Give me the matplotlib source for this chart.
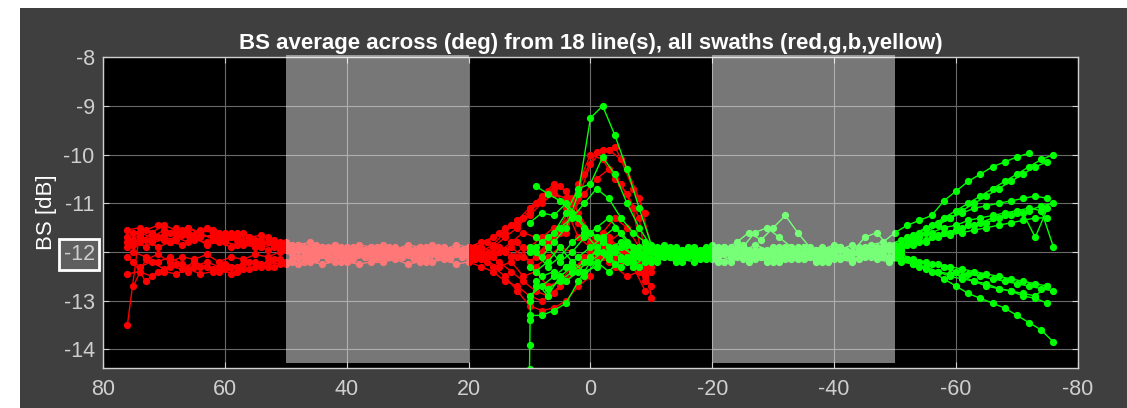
import numpy as np
import matplotlib
matplotlib.use('Agg')
import matplotlib.pyplot as plt
from matplotlib.patches import Rectangle

plt.rcParams['font.family'] = ['Liberation Sans', 'DejaVu Sans']

nan = np.nan

# angle grids (deg), two interleaved sets per side
red_ang_a = list(range(76, -11, -2))    # 76 .. -10
red_ang_b = list(range(75, -10, -2))    # 75 .. -9
green_ang_a = list(range(10, -77, -2))  # 10 .. -76
green_ang_b = list(range(9, -76, -2))   # 9 .. -75

# port swaths (red), BS in dB
red_a = [
    [-13.5, -11.6, -11.7, -11.55, -11.6, -11.65, -11.55, -11.6, -11.7, -11.65, -11.75, -11.8, -11.85, -11.9, -11.95,
     -11.9, -12.0, -11.95, -12.05, -11.9, -12.0, -12.1, -11.95, -12.0, -11.9, -12.05, -12.0, -11.9, -12.1, -12.0,
     -11.85, -11.6, -11.35, -11.1, -10.85, -10.6, -10.75, -11.2, -11.6, -11.9, -12.1, -12.0, -12.2, -12.3],
    [-11.9, -11.7, -11.75, -11.65, -11.5, -11.6, -11.7, -11.65, -11.6, -11.75, -11.7, -11.85, -11.8, -11.9, -11.85,
     -11.95, -11.9, -12.0, -11.9, -12.0, -11.95, -11.9, -12.05, -11.95, -12.0, -11.9, -11.95, -12.05, -11.95, -11.9,
     -12.0, -11.95, -12.1, -11.9, -11.7, -11.5, -11.6, -10.9, -10.2, -9.9, -9.85, -10.3, -10.9, -11.9],
    [-11.7, -11.8, -11.6, -11.7, -11.75, -11.5, -11.65, -11.7, -11.75, -11.7, -11.8, -11.75, -11.9, -11.85, -11.95,
     -12.0, -11.95, -11.9, -12.0, -12.05, -11.9, -12.0, -11.9, -12.05, -11.95, -12.0, -11.9, -12.0, -12.05, -11.95,
     -12.1, -12.0, -11.8, -12.2, -12.0, -11.7, -11.4, -10.6, -10.0, -10.1, -10.5, -10.8, -11.3, -12.95],
    [-11.8, -11.65, -11.8, -11.75, -11.7, -11.8, -11.6, -11.75, -11.8, -11.85, -11.8, -11.9, -11.85, -11.95, -11.9,
     -12.05, -12.0, -11.85, -11.95, -11.95, -12.05, -11.95, -12.0, -11.9, -12.05, -11.95, -12.1, -11.95, -11.9, -12.05,
     -11.9, -11.7, -11.5, -11.2, -10.9, -10.7, -11.1, -11.7, -11.9, -11.6, -11.3, -11.5, -11.9, -12.1],
    [-12.1, -12.3, -12.2, -12.35, -12.25, -12.4, -12.3, -12.35, -12.25, -12.3, -12.2, -12.25, -12.15, -12.2, -12.1,
     -12.15, -12.05, -12.1, -12.15, -12.05, -12.1, -12.0, -12.1, -12.05, -12.15, -12.0, -12.1, -12.05, -12.1, -12.15,
     -12.3, -12.5, -12.8, -13.1, -13.2, -13.15, -13.0, -12.7, -12.5, nan, nan, nan, nan, nan],
    [-11.55, -11.5, -11.6, -11.45, -11.55, -11.5, -11.6, -11.55, -11.65, -11.6, -11.7, -11.65, -11.75, -11.8, -11.85,
     -11.8, -11.9, -11.85, -11.95, -11.85, -11.9, -11.85, -11.95, -11.85, -11.9, -11.85, -11.95, -11.85, -11.9, -11.8,
     -11.7, -11.5, -11.45, -11.25, -11.0, -10.8, -10.9, -11.4, -11.8, -12.1, -12.3, -12.5, -12.4, -12.7],
    [-12.45, -12.4, -12.5, -12.4, -12.45, -12.35, -12.45, -12.4, -12.35, -12.4, -12.35, -12.3, -12.3, -12.25, -12.25,
     -12.2, -12.25, -12.2, -12.2, -12.25, -12.2, -12.2, -12.15, -12.25, -12.2, -12.2, -12.15, -12.25, -12.2, -12.3,
     -12.4, -12.6, -12.7, -12.9, -13.0, -12.85, -12.6, -12.3, -12.0, -11.7, -11.9, -12.0, -12.2, -12.4],
]
red_b = [
    [-12.7, -12.15, -12.05, -12.2, -12.1, -12.15, -12.05, -12.2, -12.1, -12.15, -12.05, -12.1, -12.0, -12.05, -12.1,
     -11.95, -12.05, -12.1, -12.0, -12.1, -11.95, -12.05, -12.1, -12.0, -11.95, -12.1, -12.0, -12.1, -11.95, -12.05,
     -12.2, -12.4, -12.6, -12.8, -12.9, -12.7, -12.4, -12.1, -11.9, -12.0, -12.2, -12.1, -12.6],
    [-11.6, -11.55, -11.45, -11.6, -11.55, -11.65, -11.5, -11.6, -11.7, -11.6, -11.75, -11.7, -11.8, -11.85, -11.9,
     -11.85, -12.0, -11.9, -11.95, -12.05, -11.9, -12.0, -11.95, -12.05, -11.9, -12.0, -11.95, -12.0, -11.9, -11.8,
     -11.6, -11.45, -11.3, -11.0, -10.75, -10.65, -10.9, -11.5, -11.8, -11.7, -11.95, -12.2, -12.4],
    [-12.2, -12.6, -12.4, -12.3, -12.35, -12.2, -12.3, -12.4, -12.3, -12.25, -12.2, -12.3, -12.15, -12.2, -12.1,
     -12.15, -12.1, -12.05, -12.15, -12.1, -12.15, -12.05, -12.1, -12.15, -12.05, -12.1, -12.15, -12.05, -12.1, -12.2,
     -12.3, -12.2, -12.5, -12.4, -12.7, -12.6, -12.3, -12.2, -12.0, -12.2, -12.1, -12.3, -12.8],
    [-12.0, -12.1, -12.2, -12.1, -12.25, -12.3, -12.2, -12.3, -12.45, -12.35, -12.3, -12.2, -12.25, -12.15, -12.2,
     -12.1, -12.15, -12.2, -12.1, -12.05, -12.15, -12.1, -12.05, -12.1, -12.2, -12.05, -12.1, -12.0, -12.15, -12.1,
     -12.0, -11.9, -12.1, -12.3, -12.1, -11.9, -12.0, -12.2, -12.1, -11.8, -11.6, -11.9, -12.3],
    [-11.75, -11.9, -11.7, -11.8, -11.65, -11.75, -11.8, -11.7, -11.6, -11.8, -11.85, -11.8, -11.95, -11.9, -12.0,
     -11.9, -11.95, -12.05, -11.9, -11.95, -12.05, -11.9, -12.0, -11.95, -12.0, -11.9, -12.05, -11.95, -12.0, -12.05,
     -11.9, -12.1, -11.9, -12.1, -11.8, -11.5, -11.0, -10.4, -9.95, -9.9, -10.1, -10.7, -11.2],
    [-11.85, -11.75, -11.9, -11.8, -11.85, -11.7, -11.85, -11.8, -11.9, -11.85, -11.9, -11.95, -11.9, -12.0, -11.95,
     -12.05, -11.9, -12.0, -12.05, -11.95, -12.0, -12.1, -11.95, -12.05, -12.1, -11.95, -12.05, -12.1, -12.0, -12.1,
     -12.0, -11.8, -11.6, -11.7, -11.9, -11.6, -11.2, -10.8, -10.5, -10.3, -10.6, -11.1, -12.5],
]

# starboard swaths (green), BS in dB
green_a = [
    [-11.9, -12.1, -11.8, -11.5, -10.8, -9.25, -9.0, -9.6, -10.3, -11.1, -11.85, -12.0, -11.9, -12.05, -11.95,
     -12.1, -11.9, -12.0, -11.95, -12.05, -11.9, -12.0, -12.1, -11.95, -12.0, -11.9, -12.05, -11.95, -11.85, -11.8,
     -11.6, -11.45, -11.35, -11.25, -10.95, -10.75, -10.55, -10.4, -10.25, -10.15, -10.05, -9.97, nan, nan],
    [-12.0, -11.8, -11.6, -11.2, -10.7, -10.6, -10.05, -10.4, -11.0, -11.5, -11.9, -12.05, -11.95, -12.0, -12.1,
     -11.95, -12.05, -11.9, -12.0, -12.1, -11.95, -12.05, -11.9, -12.0, -12.1, -11.95, -12.0, -12.05, -11.95, -11.9,
     -11.9, -11.7, -11.6, -11.45, -11.3, -11.15, -11.0, -10.85, -10.7, -10.55, -10.4, -10.25, -10.1, -10.0],
    [-13.3, -13.3, -13.2, -13.05, -12.6, -12.2, -12.0, -12.25, -12.1, -12.3, -12.15, -12.1, -12.2, -12.05, -12.15,
     -12.1, -12.2, -12.05, -12.15, -12.1, -12.2, -12.05, -12.15, -12.1, -12.2, -12.1, -12.05, -12.15, -12.1, -12.05,
     -12.1, -12.15, -12.2, -12.25, -12.3, -12.4, -12.45, -12.5, -12.55, -12.6, -12.65, -12.7, -12.75, -12.8],
    [-11.4, -11.2, -11.25, -11.0, -11.3, -11.6, -11.75, -12.0, -11.85, -12.1, -11.95, -11.85, -12.0, -11.9, -12.05,
     -11.85, -11.95, -11.8, -11.6, -11.75, -11.5, -11.25, -11.6, -11.9, -11.95, -11.85, -12.0, -11.9, -11.95, -11.9,
     -12.0, -11.85, -11.8, -11.7, -11.6, -11.55, -11.45, -11.4, -11.3, -11.25, -11.2, -11.15, -11.05, -11.0],
    [-12.3, -12.5, -12.4, -12.6, -12.4, -12.1, -11.8, -11.9, -12.2, -12.0, -12.2, -12.05, -12.15, -12.1, -12.0,
     -12.15, -12.05, -12.1, -12.2, -12.05, -12.1, -12.15, -12.0, -12.1, -12.05, -12.15, -12.1, -12.0, -12.05, -12.1,
     -12.05, -12.15, -12.3, -12.4, -12.55, -12.7, -12.85, -12.95, -13.05, -13.15, -13.3, -13.45, -13.6, -13.85],
    [-12.9, -12.7, -12.5, -12.3, -12.1, -11.9, -11.7, -11.5, -11.8, -11.9, -12.0, -11.9, -12.05, -11.95, -12.0,
     -12.05, -11.9, -12.0, -12.05, -11.95, -12.0, -11.9, -12.05, -12.0, -11.9, -12.05, -11.95, -12.0, -12.05, -11.95,
     -11.85, -11.75, -11.7, -11.6, -11.5, -11.45, -11.35, -11.3, -11.25, -11.2, -11.15, -11.1, -11.15, -11.9],
]
green_b = [
    [-12.7, -12.75, -12.6, -12.4, -12.2, -12.0, -12.15, -11.9, -12.05, -12.2, -12.0, -12.1, -11.95, -12.05, -12.15,
     -12.0, -11.9, -12.05, -11.95, -12.1, -12.0, -11.9, -12.05, -12.15, -12.0, -11.9, -12.05, -11.95, -12.05, -12.1,
     -12.05, -12.15, -12.2, -12.25, -12.3, -12.35, -12.4, -12.45, -12.5, -12.55, -12.6, -12.65, -12.7],
    [-10.65, -10.8, -10.95, -11.2, -11.5, -11.7, -11.9, -11.8, -12.1, -12.0, -11.9, -12.05, -11.95, -12.1, -12.0,
     -11.9, -12.05, -12.0, -11.85, -11.95, -12.1, -12.0, -11.9, -12.05, -11.95, -12.1, -12.0, -11.9, -11.95, -11.9,
     -11.85, -11.75, -11.6, -11.45, -11.3, -11.15, -11.0, -10.85, -10.7, -10.55, -10.4, -10.25, -10.15],
    [-12.0, -12.3, -12.1, -11.8, -11.6, -11.9, -12.1, -12.3, -12.0, -11.9, -12.1, -11.95, -12.05, -11.9, -12.0,
     -12.1, -11.95, -11.85, -12.0, -12.05, -11.9, -12.0, -12.1, -11.95, -12.05, -11.9, -12.0, -11.7, -11.6, -11.9,
     -11.95, -11.85, -11.8, -11.7, -11.65, -11.6, -11.55, -11.5, -11.45, -11.4, -11.35, -11.3, -11.3],
    [-12.6, -12.9, -12.5, -12.3, -12.5, -12.2, -12.4, -12.15, -12.2, -12.05, -12.15, -12.1, -12.2, -12.05, -12.1,
     -12.2, -12.1, -12.15, -12.05, -12.2, -12.1, -12.15, -12.05, -12.2, -12.1, -12.15, -12.2, -12.1, -12.15, -12.2,
     -12.15, -12.25, -12.3, -12.4, -12.45, -12.5, -12.6, -12.65, -12.75, -12.8, -12.9, -12.95, -13.05],
    [-11.7, -11.9, -12.2, -12.0, -11.7, -11.5, -11.3, -11.6, -11.9, -12.1, -11.95, -12.0, -12.1, -11.95, -11.9,
     -12.05, -12.0, -11.9, -12.1, -12.0, -11.95, -12.05, -11.9, -12.0, -12.05, -11.95, -11.85, -11.95, -12.0, -11.95,
     -11.9, -11.8, -11.75, -11.65, -11.6, -11.5, -11.45, -11.4, -11.3, -11.25, -11.2, -11.7, -11.1],
    [-12.4, -12.2, -11.9, -12.2, -12.4, -12.3, -12.0, -12.1, -12.3, -12.1, -12.2, -12.05, -12.15, -12.2, -12.05,
     -12.15, -12.2, -12.1, -12.15, -12.05, -12.2, -12.1, -12.15, -12.05, -12.2, -12.1, -12.15, -12.05, -12.1, -12.15,
     -12.2, -12.25, -12.35, -12.4, -12.5, -12.55, -12.6, -12.7, -12.75, -12.8, -12.85, -12.9, -12.7],
    [-11.9, -11.7, -11.5, -11.3, -11.0, -10.7, -10.9, -11.3, -11.6, -11.8, -12.05, -11.9, -12.0, -12.05, -11.95,
     -12.0, -12.05, -11.9, -11.6, -11.5, -11.7, -11.9, -12.0, -11.95, -12.05, -11.9, -12.0, -12.05, -11.9, -11.85,
     -11.75, -11.65, -11.5, -11.4, -11.3, -11.2, -11.1, -11.05, -11.0, -10.95, -10.9, -10.85, -10.9],
]

# steep first soundings of one starboard swath right at 10 deg
green_start_ang = [10.0, 9.95, 9.9, 9.85]
green_start_val = [-14.4, -13.9, -13.4, -13.0]

# angular sectors highlighted in grey
sectors = [(50, 20), (-20, -50)]

xticks = [80, 60, 40, 20, 0, -20, -40, -60, -80]
yticks = [-14, -13, -12, -11, -10, -9, -8]

title = 'BS average across (deg) from 18 line(s), all swaths (red,g,b,yellow)'

fig = plt.figure(figsize=(11.27, 4.08), dpi=100, facecolor='white')
fig.patches.append(Rectangle((20 / 1127, 0), 1, 400 / 408, transform=fig.transFigure,
                             facecolor='#3f3f3f', edgecolor='none', zorder=-5))
ax = fig.add_axes([0.0914, 0.098, 0.865, 0.762])
ax.set_facecolor('black')

style = dict(marker='o', ms=4.2, lw=1.0, zorder=2)
for vals in red_a:
    ax.plot(red_ang_a, vals, color='#ff0000', **style)
for vals in red_b:
    ax.plot(red_ang_b, vals, color='#ff0000', **style)
for vals in green_a:
    ax.plot(green_ang_a, vals, color='#00ff00', **style)
for i, vals in enumerate(green_b):
    if i == 0:
        ax.plot(green_start_ang + green_ang_b, green_start_val + vals, color='#00ff00', **style)
    else:
        ax.plot(green_ang_b, vals, color='#00ff00', **style)

for x0, x1 in sectors:
    ax.add_patch(Rectangle((x1, -14.28), x0 - x1, 6.33, facecolor='white', alpha=0.47,
                           edgecolor='none', zorder=3, clip_on=False))

ax.set_xlim(80, -80)
ax.set_ylim(-14.38, -8)
ax.set_xticks(xticks)
ax.set_xticklabels([str(t) for t in xticks])
ax.set_yticks(yticks)
ax.set_yticklabels([str(t) for t in yticks])
ax.grid(True, color='#6a6a6a', lw=0.8, zorder=1)
ax.set_axisbelow(True)
ax.tick_params(direction='in', length=4, width=0.8, color='#d0d0d0', labelcolor='#cfcfcf',
               labelsize=15.5, top=True, right=True)
ax.tick_params(axis='x', pad=8)
ax.tick_params(axis='y', pad=6)
for sp in ax.spines.values():
    sp.set_color('#d0d0d0')
    sp.set_linewidth(1.0)

ax.set_title(title, color='white', fontsize=16, fontweight='bold', pad=6)
ax.set_ylabel('BS [dB]', color='white', fontsize=16)
ax.yaxis.set_label_coords(-0.047, 0.5)

# highlighted tick label (-12)
lab = ax.get_yticklabels()[yticks.index(-12)]
lab.set_bbox(dict(boxstyle='square,pad=0.22', facecolor='#5e5e5e', edgecolor='white', lw=2))

fig.savefig('out.png', dpi=100, facecolor=fig.get_facecolor())
